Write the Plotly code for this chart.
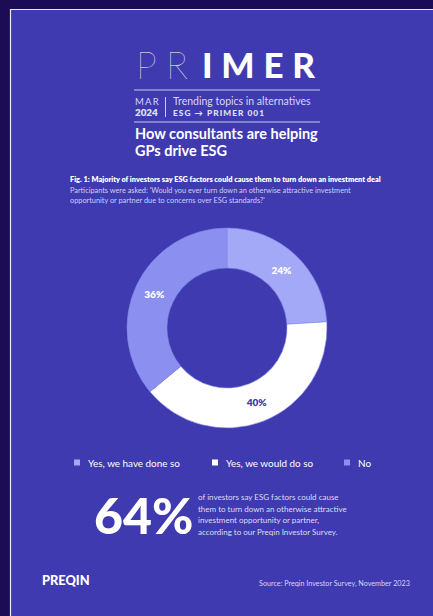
import plotly.graph_objects as go

W, H = 433, 616
DARK = "#1b0c55"
PANEL = "#3f3aaf"

categories = ["Yes, we have done so", "Yes, we would do so", "No"]
values = [24, 40, 36]
slice_colors = ["#a3a8f7", "#ffffff", "#8a8ff0"]
label_colors = ["#ffffff", "#3f3aaf", "#ffffff"]

def px(x):
    return x / W

def py(y):
    return 1 - y / H

fig = go.Figure()
fig.add_trace(go.Pie(
    labels=categories,
    values=values,
    hole=0.6,
    sort=False,
    direction="clockwise",
    rotation=0,
    marker=dict(colors=slice_colors, line=dict(color="#8086e8", width=0.6)),
    texttemplate="%{value}%",
    textposition="inside",
    insidetextorientation="horizontal",
    textfont=dict(family="Lato", size=10, color=label_colors, weight=800),
    domain=dict(x=[px(127), px(327)], y=[py(428), py(228)]),
    showlegend=False,
    hoverinfo="label+percent",
))

shapes = []
# panel with white edge
shapes.append(dict(type="rect", xref="paper", yref="paper",
                   x0=px(10.5), x1=px(W + 5), y0=py(H + 5), y1=py(9.5),
                   fillcolor=PANEL, line=dict(color="#e8e8ff", width=1.2), layer="below"))
# rules under title
for yy in (90, 122):
    shapes.append(dict(type="line", xref="paper", yref="paper",
                       x0=px(134), x1=px(320), y0=py(yy), y1=py(yy),
                       line=dict(color="#c9c9f2", width=1)))
# vertical separator
shapes.append(dict(type="line", xref="paper", yref="paper",
                   x0=px(165.5), x1=px(165.5), y0=py(97), y1=py(117),
                   line=dict(color="#c9c9f2", width=1)))

ann = []
def text(x, y, s, size, color="#ffffff", weight=400, family="Lato", xanchor="left"):
    ann.append(dict(x=px(x), y=py(y), xref="paper", yref="paper", text=s,
                    showarrow=False, xanchor=xanchor, yanchor="middle", align="left",
                    font=dict(family=family, size=size, color=color, weight=weight)))

text(134, 64, "P\u2009\u2009R", 37, weight=100)
text(200, 64, "\u2009\u2009".join("IMER"), 35, weight=900)
text(133, 101, "\u2009".join("MAR"), 9.5, color="#d6d6f5", weight=400)
text(133, 112.5, "2024", 9.8, color="#e0e0f8", weight=800)
text(171, 101, "Trending topics in alternatives", 10.5, color="#d6d6f5", weight=400)
text(171, 113, "\u2009".join("ESG") + "\u2002\u2192\u2002" + "\u2009".join("PRIMER") + "\u2002" + "\u2009".join("001"),
     8.3, color="#e0e0f8", weight=900)
text(133, 134, "How consultants are helping", 14.5, weight=700)
text(133, 151, "GPs drive ESG", 14.5, weight=700)

text(68, 180, "Fig. 1: Majority of investors say ESG factors could cause them to turn down an investment deal", 7.35, weight=800)
text(68, 190, "Participants were asked: 'Would you ever turn down an otherwise attractive investment", 7.35, color="#cfcff2")
text(68, 200, "opportunity or partner due to concerns over ESG standards?'", 7.35, color="#cfcff2")

# legend
leg_x = [74, 212, 344]
legend_sq = ["#a3a8f7", "#ffffff", "#8a8ff0"]
for lx, cat, col in zip(leg_x, categories, legend_sq):
    shapes.append(dict(type="rect", xref="paper", yref="paper",
                       x0=px(lx), x1=px(lx + 6), y0=py(465.5), y1=py(459.5),
                       fillcolor=col, line=dict(width=0)))
    text(lx + 12, 462.5, cat, 9.9)

text(92, 515, "64%", 50, weight=900)
para = ["of investors say ESG factors could cause",
        "them to turn down an otherwise attractive",
        "investment opportunity or partner,",
        "according to our Preqin Investor Survey."]
for i, line in enumerate(para):
    text(196, 497 + i * 11.7, line, 8, color="#dcdcf6")

text(40, 580, "PREQIN", 12.8, weight=900)
text(412, 583.5, "Source: Preqin Investor Survey, November 2023", 7.2, color="#d6d6f5", xanchor="right")

fig.update_layout(
    width=W, height=H,
    margin=dict(l=0, r=0, t=0, b=0),
    paper_bgcolor=DARK,
    plot_bgcolor=DARK,
    shapes=shapes,
    annotations=ann,
)

fig.write_html(
    "out.html",
    config={"displayModeBar": False},
    post_script="document.body.style.margin='0';document.body.style.overflow='hidden';document.body.style.background='%s';" % DARK,
)
